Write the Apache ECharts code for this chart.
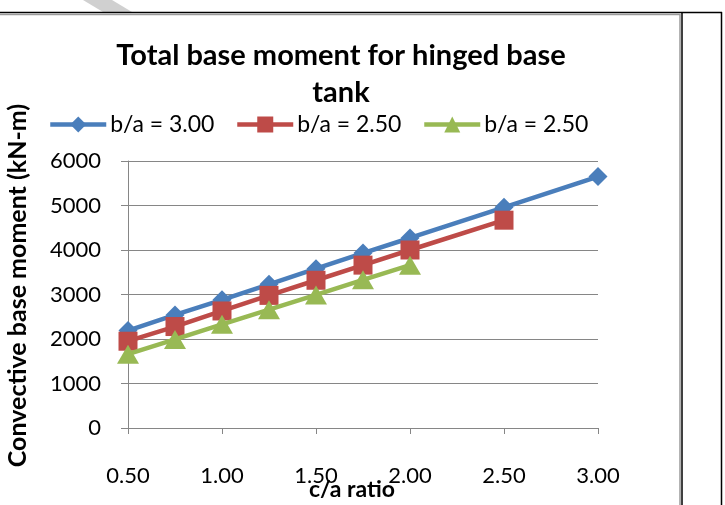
<!DOCTYPE html>
<html>
<head>
<meta charset="utf-8">
<script src="https://cdn.jsdelivr.net/npm/echarts@6/dist/echarts.min.js"></script>
<style>
html,body{margin:0;padding:0;background:#fff;}
#c{width:725px;height:505px;}
</style>
</head>
<body>
<div id="c"></div>
<script>
const titleText = 'Total base moment for hinged base\ntank';
const xName = 'c/a ratio';
const yName = 'Convective base moment (kN-m)';
const seriesNames = ['b/a = 3.00', 'b/a = 2.50', 'b/a = 2.50 '];
const xBlue = [0.5, 0.75, 1.0, 1.25, 1.5, 1.75, 2.0, 2.5, 3.0];
const yBlue = [2190, 2540, 2880, 3230, 3580, 3930, 4270, 4960, 5650];
const xRed = [0.5, 0.75, 1.0, 1.25, 1.5, 1.75, 2.0, 2.5];
const yRed = [1950, 2280, 2630, 2980, 3320, 3660, 4000, 4670];
const xGreen = [0.5, 0.75, 1.0, 1.25, 1.5, 1.75, 2.0];
const yGreen = [1660, 1990, 2330, 2660, 2990, 3330, 3660];
const yTicks = {min: 0, max: 6000, interval: 1000};
const xTicks = {min: 0.5, max: 3.0, interval: 0.5};

const FONT = 'Lato';
const colors = ['#4A7EBB', '#BE4B48', '#98B954'];
const symbols = ['diamond', 'rect', 'triangle'];
const symSizes = [[19, 19], [19, 19], [22, 19]];
const zip = (xs, ys) => xs.map((x, i) => [x, ys[i]]);
const datas = [zip(xBlue, yBlue), zip(xRed, yRed), zip(xGreen, yGreen)];

const chart = echarts.init(document.getElementById('c'), null, {renderer: 'canvas'});
const legendLefts = [48, 235, 422];
chart.setOption({
  animation: false,
  backgroundColor: '#fff',
  title: {
    text: titleText,
    left: 341, top: 37, textAlign: 'center', padding: 0,
    textStyle: {fontFamily: FONT, fontWeight: 'bold', fontSize: 29, lineHeight: 37, color: '#000'}
  },
  legend: seriesNames.map((n, i) => ({
    data: [{name: n, itemStyle: {color: colors[i]}, lineStyle: {color: colors[i], width: 4.5}}],
    left: legendLefts[i], top: 113, padding: 0,
    itemWidth: 56, itemHeight: 20, itemGap: 0,
    textStyle: {fontFamily: FONT, fontSize: 23, color: '#000', padding: [0, 0, 0, -1]}
  })),
  grid: {left: 128, right: 127, top: 161, bottom: 77, containLabel: false, outerBoundsMode: 'none'},
  xAxis: {
    type: 'value', min: xTicks.min, max: xTicks.max, interval: xTicks.interval,
    name: xName, nameLocation: 'middle', nameGap: 50, nameMoveOverlap: false,
    nameTextStyle: {fontFamily: FONT, fontWeight: 'bold', fontSize: 23, color: '#000', padding: [0, 22, 0, 0]},
    axisLine: {show: true, onZero: false, lineStyle: {color: '#868686', width: 1}},
    axisTick: {show: true, inside: false, length: 6, lineStyle: {color: '#868686'}},
    axisLabel: {margin: 37, fontFamily: FONT, fontSize: 22, color: '#000', formatter: v => v.toFixed(2)},
    splitLine: {show: false}
  },
  yAxis: {
    type: 'value', min: yTicks.min, max: yTicks.max, interval: yTicks.interval,
    name: yName, nameLocation: 'middle', nameGap: 98, nameRotate: 90, nameMoveOverlap: false,
    nameTextStyle: {fontFamily: FONT, fontWeight: 'bold', fontSize: 25, color: '#000', padding: [0, 0, 0, 18]},
    axisLine: {show: true, lineStyle: {color: '#868686', width: 1}},
    axisTick: {show: true, inside: false, length: 7, lineStyle: {color: '#868686'}},
    axisLabel: {margin: 27, fontFamily: FONT, fontSize: 22, color: '#000', formatter: v => String(v)},
    splitLine: {show: true, lineStyle: {color: '#868686', width: 1}}
  },
  series: seriesNames.map((n, i) => ({
    name: n, type: 'line', data: datas[i],
    symbol: symbols[i], symbolSize: symSizes[i],
    lineStyle: {color: colors[i], width: 4.5},
    itemStyle: {color: colors[i]},
    z: 3 + i
  })),
  graphic: [
    {type: 'polygon', shape: {points: [[83, 0], [112, 0], [132, 12], [103, 12]]}, style: {fill: '#d0d0d0'}, silent: true},
    {type: 'line', shape: {x1: 0, y1: 12.5, x2: 722, y2: 12.5}, style: {stroke: '#000', lineWidth: 1.5}},
    {type: 'line', shape: {x1: 0, y1: 14.5, x2: 680, y2: 14.5}, style: {stroke: '#9a9a9a', lineWidth: 1.5}},
    {type: 'line', shape: {x1: 680, y1: 14, x2: 680, y2: 505}, style: {stroke: '#9a9a9a', lineWidth: 1.5}},
    {type: 'line', shape: {x1: 682, y1: 12, x2: 682, y2: 505}, style: {stroke: '#000', lineWidth: 1.5}},
    {type: 'line', shape: {x1: 721.5, y1: 12, x2: 721.5, y2: 505}, style: {stroke: '#000', lineWidth: 1.5}}
  ]
});
</script>
</body>
</html>
